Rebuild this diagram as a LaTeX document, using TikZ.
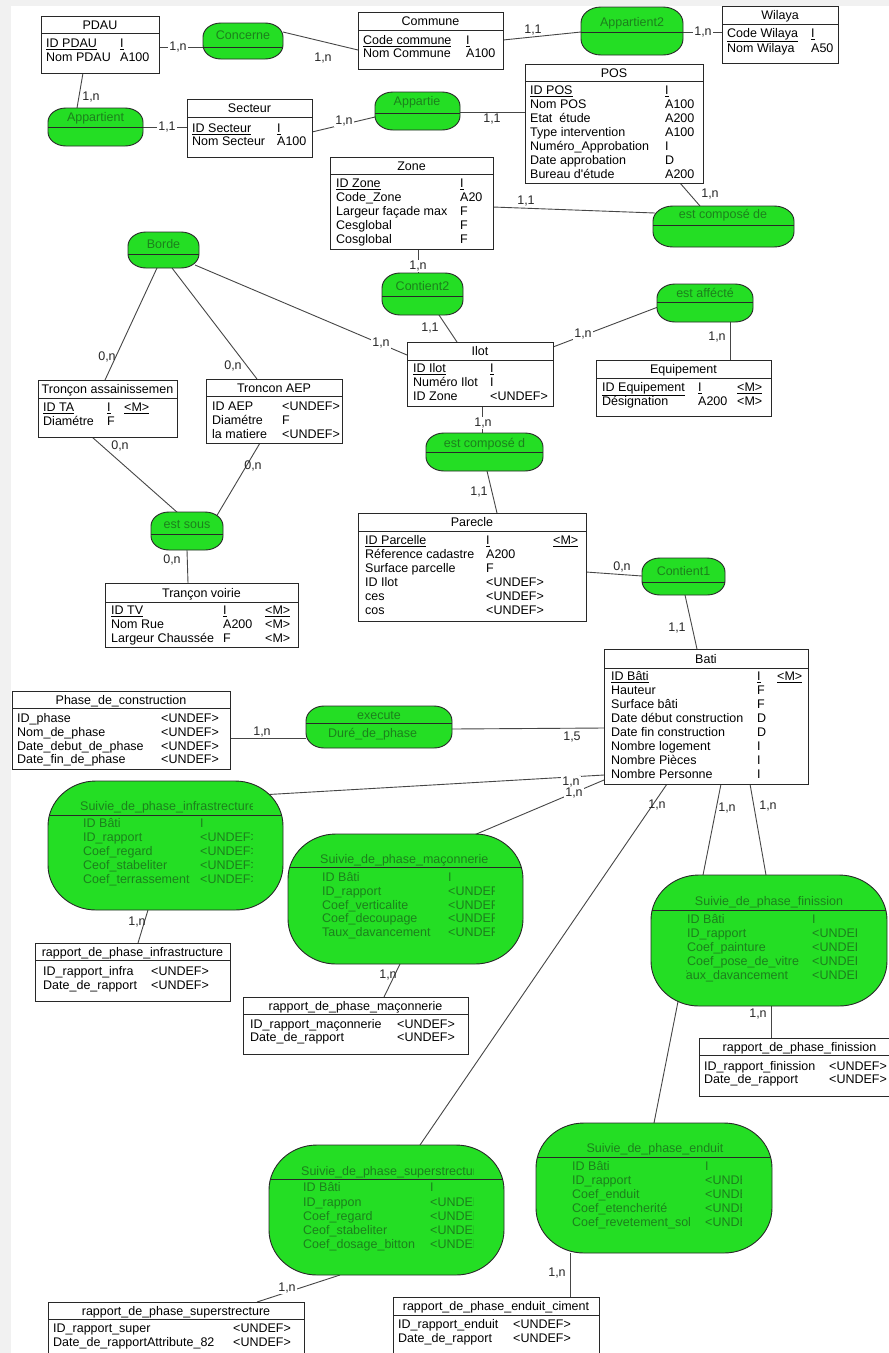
\documentclass[tikz,border=0pt]{standalone}
\usepackage{fontspec}
\setmainfont{Liberation Sans}
\usetikzlibrary{calc}
\pgfdeclarelayer{back}
\pgfdeclarelayer{wires}
\pgfsetlayers{back,wires,main}

\definecolor{relgreen}{RGB}{36,222,36}
\definecolor{reltext}{RGB}{28,128,28}
\definecolor{wire}{RGB}{70,70,70}
\definecolor{frame}{RGB}{40,40,40}
\definecolor{margin}{RGB}{241,241,241}

\newcommand\mcdfont{\fontsize{12.5}{14}\selectfont}
\newcounter{lbl}

\tikzset{
  entbox/.style={draw=frame, fill=white, line width=0.9pt, inner sep=0pt, outer sep=0pt, anchor=north west},
  relbox/.style={inner sep=0pt, outer sep=0pt, anchor=north west},
  link/.style={draw=wire, line width=0.9pt},
  field/.style={anchor=base west, inner sep=0pt, font=\mcdfont, text=black},
  rfield/.style={field, text=reltext},
  rname/.style={anchor=base, inner sep=0pt, font=\mcdfont, text=reltext},
  card/.style={anchor=center, inner sep=1pt, font=\mcdfont, text=black!85},
  cardw/.style={card, fill=white},
}

% entity: name, x1, y1, x2, y2, header line y, title
\newcommand\entity[7]{%
  \node[entbox, minimum width={#4-#2}, minimum height={#5-#3}] (#1) at (#2,#3) {};
  \draw[frame, line width=0.9pt] (#2,#6) -- (#4,#6);
  \node[anchor=base, inner sep=0pt, font=\mcdfont] (#1-title) at ({(#2+#4)/2},{(#3+#6)/2+4.5}) {#7};
}

% one text field, placed by the left end of its baseline
\newcommand\fld[4][field]{\stepcounter{lbl}\node[#1] (f\arabic{lbl}) at (#2,{#3+4.5}) {#4};}
% centred association name
\newcommand\rnm[3]{\stepcounter{lbl}\node[rname] (r\arabic{lbl}) at (#1,{#2+4.5}) {#3};}
% cardinality
\newcommand\card[4][card]{\stepcounter{lbl}\node[#1] (c\arabic{lbl}) at (#2,#3) {#4};}

% outline of an association: rectangle with elliptic corners
\newcommand\assocpath[6]{%
  ({#1+#5},#2) -- ({#3-#5},#2) arc[start angle=-90,end angle=0,x radius=#5,y radius=#6]
  -- (#3,{#4-#6}) arc[start angle=0,end angle=90,x radius=#5,y radius=#6]
  -- ({#1+#5},#4) arc[start angle=90,end angle=180,x radius=#5,y radius=#6]
  -- (#1,{#2+#6}) arc[start angle=180,end angle=270,x radius=#5,y radius=#6] -- cycle}

% association: name, x1, y1, x2, y2, divider y, corner rx, corner ry
\newcommand\assoc[8]{%
  \node[relbox, minimum width={#4-#2}, minimum height={#5-#3}] (#1) at (#2,#3) {};
  \filldraw[fill=relgreen, draw=frame, line width=0.9pt] \assocpath{#2}{#3}{#4}{#5}{#7}{#8};
  \begin{scope}
    \clip \assocpath{#2}{#3}{#4}{#5}{#7}{#8};
    \draw[frame, line width=0.9pt] (#2,#6) -- (#4,#6);
  \end{scope}
}

% connector between two named nodes, offsets from their north west corners
\newcommand\link[6]{\draw[link] ($(#1.north west)+(#2,#3)$) -- ($(#4.north west)+(#5,#6)$);}

\begin{document}
\begin{tikzpicture}[x=1pt,y=-1pt]
\useasboundingbox (0,0) rectangle (889,1353);
\begin{pgfonlayer}{back}
  \fill[margin] (0,0) rectangle (889,1353);
  \fill[white] (11,6) rectangle (889,1353);
\end{pgfonlayer}

% ---------------- entities ----------------
\entity{pdau}{41}{16}{159}{73}{33}{PDAU}
\fld{46}{43}{\underline{ID PDAU}} \fld{120}{43}{\underline{I}}
\fld{46}{57}{Nom PDAU} \fld{120}{57}{A100}

\entity{commune}{358}{12}{503}{69}{30}{Commune}
\fld{363}{40}{\underline{Code commune}} \fld{466}{40}{\underline{I}}
\fld{363}{53}{Nom Commune} \fld{466}{53}{A100}

\entity{wilaya}{722}{6}{838}{63}{24}{Wilaya}
\fld{727}{33}{\underline{Code Wilaya}} \fld{811}{33}{\underline{I}}
\fld{727}{48}{Nom Wilaya} \fld{811}{48}{A50}

\entity{pos}{525}{64}{703}{183}{81}{POS}
\fld{530}{90}{\underline{ID POS}} \fld{665}{90}{\underline{I}}
\fld{530}{104}{Nom POS} \fld{665}{104}{A100}
\fld{530}{118}{Etat~~étude} \fld{665}{118}{A200}
\fld{530}{132}{Type intervention} \fld{665}{132}{A100}
\fld{530}{146}{Numéro\_Approbation} \fld{665}{146}{I}
\fld{530}{160}{Date approbation} \fld{665}{160}{D}
\fld{530}{174}{Bureau d\textquotesingle étude} \fld{665}{174}{A200}

\entity{secteur}{187}{99}{312}{157}{117}{Secteur}
\fld{192}{128}{\underline{ID Secteur}} \fld{277}{128}{\underline{I}}
\fld{192}{141}{Nom Secteur} \fld{277}{141}{A100}

\entity{zone}{330}{157}{493}{249}{174}{Zone}
\fld{336}{183}{\underline{ID Zone}} \fld{460}{183}{\underline{I}}
\fld{336}{197}{Code\_Zone} \fld{460}{197}{A20}
\fld{336}{211}{Largeur façade max} \fld{460}{211}{F}
\fld{336}{225}{Cesglobal} \fld{460}{225}{F}
\fld{336}{239}{Cosglobal} \fld{460}{239}{F}

\entity{ilot}{407}{342}{553}{406}{360}{Ilot}
\fld{413}{368}{\underline{ID Ilot}} \fld{490}{368}{\underline{I}}
\fld{413}{382}{Numéro Ilot} \fld{490}{382}{I}
\fld{413}{396}{ID Zone} \fld{490}{396}{<UNDEF>}

\entity{equip}{596}{360}{771}{416}{378}{Equipement}
\fld{602}{387}{\underline{ID Equipement}} \fld{698}{387}{\underline{I}} \fld{737}{387}{\underline{<M>}}
\fld{602}{401}{Désignation} \fld{698}{401}{A200} \fld{737}{401}{<M>}

\entity{tassain}{38}{380}{177}{437}{398}{Tronçon assainissemen}
\fld{43}{407}{\underline{ID TA}} \fld{107}{407}{\underline{I}} \fld{124}{407}{\underline{<M>}}
\fld{43}{421}{Diamétre} \fld{107}{421}{F}

\entity{taep}{206}{379}{342}{443}{396}{Troncon AEP}
\fld{212}{406}{ID AEP} \fld{282}{406}{<UNDEF>}
\fld{212}{420}{Diamétre} \fld{282}{420}{F}
\fld{212}{434}{la matiere} \fld{282}{434}{<UNDEF>}

\entity{tvoirie}{105}{583}{298}{647}{602}{Trançon voirie}
\fld{111}{610}{\underline{ID TV}} \fld{223}{610}{\underline{I}} \fld{265}{610}{\underline{<M>}}
\fld{111}{624}{Nom Rue} \fld{223}{624}{A200} \fld{265}{624}{<M>}
\fld{111}{638}{Largeur Chaussée} \fld{223}{638}{F} \fld{265}{638}{<M>}

\entity{parcelle}{358}{513}{586}{621}{531}{Parecle}
\fld{365}{540}{\underline{ID Parcelle}} \fld{486}{540}{\underline{I}} \fld{553}{540}{\underline{<M>}}
\fld{365}{554}{Réference cadastre} \fld{486}{554}{A200}
\fld{365}{568}{Surface parcelle} \fld{486}{568}{F}
\fld{365}{582}{ID Ilot} \fld{486}{582}{<UNDEF>}
\fld{365}{596}{ces} \fld{486}{596}{<UNDEF>}
\fld{365}{610}{cos} \fld{486}{610}{<UNDEF>}

\entity{bati}{604}{649}{808}{784}{668}{Bati}
\fld{611}{676}{\underline{ID Bâti}} \fld{757}{676}{\underline{I}} \fld{777}{676}{\underline{<M>}}
\fld{611}{690}{Hauteur} \fld{757}{690}{F}
\fld{611}{704}{Surface bâti} \fld{757}{704}{F}
\fld{611}{718}{Date début construction} \fld{757}{718}{D}
\fld{611}{732}{Date fin construction} \fld{757}{732}{D}
\fld{611}{746}{Nombre logement} \fld{757}{746}{I}
\fld{611}{760}{Nombre Pièces} \fld{757}{760}{I}
\fld{611}{774}{Nombre Personne} \fld{757}{774}{I}

\entity{phase}{12}{691}{230}{769}{708}{Phase\_de\_construction}
\fld{17}{718}{ID\_phase} \fld{161}{718}{<UNDEF>}
\fld{17}{732}{Nom\_de\_phase} \fld{161}{732}{<UNDEF>}
\fld{17}{745.5}{Date\_debut\_de\_phase} \fld{161}{745.5}{<UNDEF>}
\fld{17}{759}{Date\_fin\_de\_phase} \fld{161}{759}{<UNDEF>}

\entity{rinfra}{35}{943}{230}{1001}{960}{rapport\_de\_phase\_infrastructure}
\fld{43}{971}{ID\_rapport\_infra} \fld{151}{971}{<UNDEF>}
\fld{43}{985}{Date\_de\_rapport} \fld{151}{985}{<UNDEF>}

\entity{rmac}{243}{997}{468}{1054}{1014}{rapport\_de\_phase\_maçonnerie}
\fld{250}{1024}{ID\_rapport\_maçonnerie} \fld{397}{1024}{<UNDEF>}
\fld{250}{1037}{Date\_de\_rapport} \fld{397}{1037}{<UNDEF>}

\entity{rfin}{699}{1038}{900}{1096}{1055}{rapport\_de\_phase\_finission}
\fld{704}{1066}{ID\_rapport\_finission} \fld{829}{1066}{<UNDEF>}
\fld{704}{1079}{Date\_de\_rapport} \fld{829}{1079}{<UNDEF>}

\entity{rsuper}{48}{1302}{304}{1362}{1319}{rapport\_de\_phase\_superstrecture}
\fld{53}{1328}{ID\_rapport\_super} \fld{233}{1328}{<UNDEF>}
\fld{53}{1342}{Date\_de\_rapportAttribute\_82} \fld{233}{1342}{<UNDEF>}

\entity{renduit}{393}{1297}{599}{1362}{1315}{rapport\_de\_phase\_enduit\_ciment}
\fld{398}{1324}{ID\_rapport\_enduit} \fld{513}{1324}{<UNDEF>}
\fld{398}{1338}{Date\_de\_rapport} \fld{513}{1338}{<UNDEF>}

% ---------------- associations ----------------
\assoc{concerne}{203}{23}{283}{59}{47}{18}{14}
\rnm{243}{35}{Concerne}
\assoc{appartient}{48}{108}{143}{146}{127}{18}{14}
\rnm{95.5}{117}{Appartient}
\assoc{appartientb}{581}{7}{683}{55}{32}{20}{16}
\rnm{632}{22}{Appartient2}
\assoc{appartie}{375}{92}{460}{130}{113}{18}{14}
\rnm{417}{101}{Appartie}
\assoc{composede}{653}{206}{794}{247}{225}{20}{15}
\rnm{723}{214}{est composé de}
\assoc{borde}{128}{232}{199}{268}{254}{18}{14}
\rnm{163.5}{244}{Borde}
\assoc{contientb}{382}{273}{463}{315}{296}{18}{15}
\rnm{422.5}{286}{Contient2}
\assoc{affecte}{657}{284}{753}{322}{302}{18}{14}
\rnm{705}{293}{est affécté}
\assoc{composed}{426}{433}{543}{471}{452}{18}{14}
\rnm{484.5}{443}{est composé d}
\assoc{sous}{151}{512}{223}{550}{534}{18}{14}
\rnm{187}{524}{est sous}
\assoc{contienta}{642}{558}{725}{595}{582}{18}{14}
\rnm{683.5}{571}{Contient1}
\assoc{execute}{306}{706}{452}{748}{723}{18}{15}
\rnm{379}{715}{execute}
\fld[rfield]{328}{733}{Duré\_de\_phase}

\assoc{sinfra}{48}{781}{283}{910}{815}{48}{45}
\begin{scope}
  \clip (48,781) rectangle (252,910);
  \fld[rfield]{80}{806}{Suivie\_de\_phase\_infrastrecture}
  \fld[rfield]{83}{823}{ID Bâti} \fld[rfield]{200}{823}{I}
  \fld[rfield]{83}{837}{ID\_rapport} \fld[rfield]{200}{837}{<UNDEF>}
  \fld[rfield]{83}{851}{Coef\_regard} \fld[rfield]{200}{851}{<UNDEF>}
  \fld[rfield]{83}{865}{Ceof\_stabeliter} \fld[rfield]{200}{865}{<UNDEF>}
  \fld[rfield]{83}{879}{Coef\_terrassement} \fld[rfield]{200}{879}{<UNDEF>}
\end{scope}

\assoc{smac}{288}{834}{523}{964}{867}{48}{45}
\begin{scope}
  \clip (288,834) rectangle (494,964);
  \fld[rfield]{320}{859}{Suivie\_de\_phase\_maçonnerie}
  \fld[rfield]{322}{877}{ID Bâti} \fld[rfield]{448}{877}{I}
  \fld[rfield]{322}{891}{ID\_rapport} \fld[rfield]{448}{891}{<UNDEF>}
  \fld[rfield]{322}{905}{Coef\_verticalite} \fld[rfield]{448}{905}{<UNDEF>}
  \fld[rfield]{322}{918}{Coef\_decoupage} \fld[rfield]{448}{918}{<UNDEF>}
  \fld[rfield]{322}{932}{Taux\_davancement} \fld[rfield]{448}{932}{<UNDEF>}
\end{scope}

\assoc{sfin}{651}{875}{887}{1006}{910}{48}{45}
\rnm{769}{901}{Suivie\_de\_phase\_finission}
\begin{scope}
  \clip (686,912) rectangle (856,1006);
  \fld[rfield]{687}{919}{ID Bâti} \fld[rfield]{812}{919}{I}
  \fld[rfield]{687}{933}{ID\_rapport} \fld[rfield]{812}{933}{<UNDEF>}
  \fld[rfield]{687}{947}{Coef\_painture} \fld[rfield]{812}{947}{<UNDEF>}
  \fld[rfield]{687}{961}{Coef\_pose\_de\_vitre} \fld[rfield]{812}{961}{<UNDEF>}
  \fld[rfield]{679.5}{975}{Taux\_davancement} \fld[rfield]{812}{975}{<UNDEF>}
\end{scope}

\assoc{ssuper}{269}{1145}{504}{1275}{1179}{48}{45}
\begin{scope}
  \clip (269,1145) rectangle (473,1275);
  \fld[rfield]{301}{1171}{Suivie\_de\_phase\_superstrecture}
  \fld[rfield]{303}{1187}{ID Bâti} \fld[rfield]{430}{1187}{I}
  \fld[rfield]{303}{1202}{ID\_rappon} \fld[rfield]{430}{1202}{<UNDEF>}
  \fld[rfield]{303}{1216}{Coef\_regard} \fld[rfield]{430}{1216}{<UNDEF>}
  \fld[rfield]{303}{1230}{Ceof\_stabeliter} \fld[rfield]{430}{1230}{<UNDEF>}
  \fld[rfield]{303}{1244}{Coef\_dosage\_bitton} \fld[rfield]{430}{1244}{<UNDEF>}
\end{scope}

\assoc{senduit}{536}{1123}{772}{1253}{1157}{48}{45}
\rnm{655}{1148}{Suivie\_de\_phase\_enduit}
\begin{scope}
  \clip (536,1159) rectangle (741,1253);
  \fld[rfield]{572}{1166}{ID Bâti} \fld[rfield]{705}{1166}{I}
  \fld[rfield]{572}{1180}{ID\_rapport} \fld[rfield]{705}{1180}{<UNDEF>}
  \fld[rfield]{572}{1194}{Coef\_enduit} \fld[rfield]{705}{1194}{<UNDEF>}
  \fld[rfield]{572}{1208}{Coef\_etencherité} \fld[rfield]{705}{1208}{<UNDEF>}
  \fld[rfield]{572}{1222}{Coef\_revetement\_sol} \fld[rfield]{705}{1222}{<UNDEF>}
\end{scope}

% ---------------- connectors ----------------
\begin{pgfonlayer}{wires}
  \link{pdau}{118}{31}{concerne}{0}{24}
  \link{concerne}{80}{9}{commune}{0}{38}
  \link{commune}{145}{28}{appartientb}{0}{25}
  \link{appartientb}{102}{25}{wilaya}{0}{26}
  \link{pdau}{42}{57}{appartient}{29}{0}
  \link{appartient}{95}{19}{secteur}{0}{28}
  \link{secteur}{125}{33}{appartie}{0}{25}
  \link{appartie}{85}{20}{pos}{0}{48}
  \link{pos}{155}{119}{composede}{47}{0}
  \link{zone}{163}{50}{composede}{2}{7}
  \link{zone}{88}{92}{contientb}{36}{0}
  \link{contientb}{55}{39}{ilot}{50}{0}
  \link{borde}{67}{33}{ilot}{0}{13}
  \link{borde}{29}{36}{tassain}{67}{0}
  \link{borde}{44}{36}{taep}{51}{0}
  \link{tassain}{54}{57}{sous}{27}{1}
  \link{taep}{54}{64}{sous}{65}{5}
  \link{sous}{36}{38}{tvoirie}{83}{0}
  \link{ilot}{75}{64}{composed}{56}{0}
  \link{composed}{61}{38}{parcelle}{139}{0}
  \link{ilot}{146}{5}{affecte}{1}{23}
  \link{affecte}{73}{38}{equip}{134}{0}
  \link{parcelle}{228}{59}{contienta}{0}{18}
  \link{contienta}{43}{37}{bati}{93}{0}
  \link{phase}{218}{47}{execute}{0}{32}
  \link{execute}{146}{23}{bati}{0}{79}
  \link{sinfra}{212}{14}{bati}{0}{126}
  \link{smac}{179}{4}{bati}{0}{131}
  \link{bati}{63}{135}{ssuper}{151}{0}
  \link{bati}{117}{135}{senduit}{118}{0}
  \link{bati}{146}{135}{sfin}{115}{0}
  \link{sinfra}{100}{129}{rinfra}{103}{0}
  \link{smac}{112}{130}{rmac}{141}{0}
  \link{sfin}{120}{131}{rfin}{72}{0}
  \link{senduit}{34}{130}{renduit}{177}{0}
  \link{ssuper}{71}{130}{rsuper}{209}{0}
\end{pgfonlayer}

% ---------------- cardinalities ----------------
\card[cardw]{178}{47}{1,n}
\card{323}{58}{1,n}
\card{533}{30}{1,1}
\card[cardw]{703}{32}{1,n}
\card{91}{97}{1,n}
\card[cardw]{167}{127}{1,1}
\card[cardw]{344}{121}{1,n}
\card{492}{119}{1,1}
\card{710}{194}{1,n}
\card{526}{201}{1,1}
\card[cardw]{418}{266}{1,n}
\card{430}{328}{1,1}
\card[cardw]{381}{343}{1,n}
\card{107}{357}{0,n}
\card{233}{366}{0,n}
\card{120}{446}{0,n}
\card{253}{466}{0,n}
\card{172}{560}{0,n}
\card[cardw]{483}{423}{1,n}
\card{479}{492}{1,1}
\card[cardw]{583}{334}{1,n}
\card{717}{337}{1,n}
\card{622}{567}{0,n}
\card{677}{628}{1,1}
\card{262}{732}{1,n}
\card{572}{737}{1,5}
\card[cardw]{571}{782}{1,n}
\card[cardw]{574}{793}{1,n}
\card{657}{805}{1,n}
\card{727}{808}{1,n}
\card{768}{806}{1,n}
\card{137}{922}{1,n}
\card{388}{975}{1,n}
\card{758}{1014}{1,n}
\card{557}{1273}{1,n}
\card[cardw]{287}{1288}{1,n}
\end{tikzpicture}
\end{document}
